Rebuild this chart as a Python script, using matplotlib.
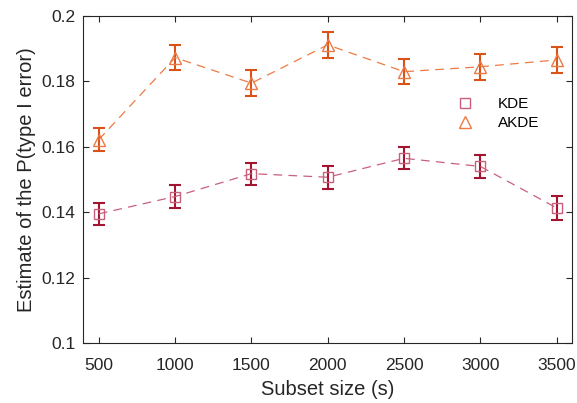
import matplotlib
matplotlib.use("Agg")
import matplotlib.pyplot as plt

plt.rcParams['font.family'] = ['Liberation Sans', 'DejaVu Sans']

subset_sizes = [500, 1000, 1500, 2000, 2500, 3000, 3500]
kde_mean = [0.1395, 0.1448, 0.1518, 0.1507, 0.1565, 0.1540, 0.1413]
kde_err = [0.0034, 0.0035, 0.0034, 0.0035, 0.0034, 0.0034, 0.0036]
akde_mean = [0.1622, 0.1873, 0.1795, 0.1912, 0.1830, 0.1845, 0.1866]
akde_err = [0.0036, 0.0038, 0.0040, 0.0040, 0.0038, 0.0040, 0.0039]
yticks = [0.1, 0.12, 0.14, 0.16, 0.18, 0.2]
yticklabels = ['0.1', '0.12', '0.14', '0.16', '0.18', '0.2']

fig = plt.figure(figsize=(5.77, 4.03), dpi=100)
ax = fig.add_axes([0.1447, 0.149, 0.8466, 0.811])

kde_bar = '#a2142f'
kde_mk = '#c8607d'
akde_bar = '#d95319'
akde_mk = '#ec7a45'

ax.errorbar(subset_sizes, kde_mean, yerr=kde_err, fmt='none', ecolor=kde_bar,
            elinewidth=1.5, capsize=4.5, capthick=1.5, zorder=2)
ax.plot(subset_sizes, kde_mean, linestyle=(0, (7, 5)), color=kde_mk, lw=0.9,
        marker='s', markersize=7, markerfacecolor='none', markeredgecolor=kde_mk,
        markeredgewidth=1.0, label='KDE', zorder=3)

ax.errorbar(subset_sizes, akde_mean, yerr=akde_err, fmt='none', ecolor=akde_bar,
            elinewidth=1.5, capsize=4.5, capthick=1.5, zorder=2)
ax.plot(subset_sizes, akde_mean, linestyle=(0, (7, 5)), color=akde_mk, lw=0.9,
        marker='^', markersize=9, markerfacecolor='none', markeredgecolor=akde_mk,
        markeredgewidth=1.0, label='AKDE', zorder=3)

ax.set_xlim(400, 3600)
ax.set_ylim(0.1, 0.2)
ax.set_xticks(subset_sizes)
ax.set_yticks(yticks)
ax.set_yticklabels(yticklabels)
ax.tick_params(direction='in', top=True, right=True, labelsize=12.5, length=4,
               colors='#262626', width=0.8)
ax.tick_params(axis='y', pad=6)
ax.tick_params(axis='x', pad=11)
for s in ax.spines.values():
    s.set_color('#262626')
    s.set_linewidth(0.8)

ax.set_xlabel('Subset size (s)', fontsize=14.5, color='#262626', labelpad=5)
ax.set_ylabel('Estimate of the P(type I error)', fontsize=14.5, color='#262626', labelpad=4)

leg = ax.legend(loc='upper left', bbox_to_anchor=(0.73, 0.795), frameon=False,
                fontsize=11, handlelength=1.5, handletextpad=1.4, labelspacing=0.35)
for h in leg.legend_handles:
    h.set_linestyle('none')

fig.savefig('out.png', dpi=100)
